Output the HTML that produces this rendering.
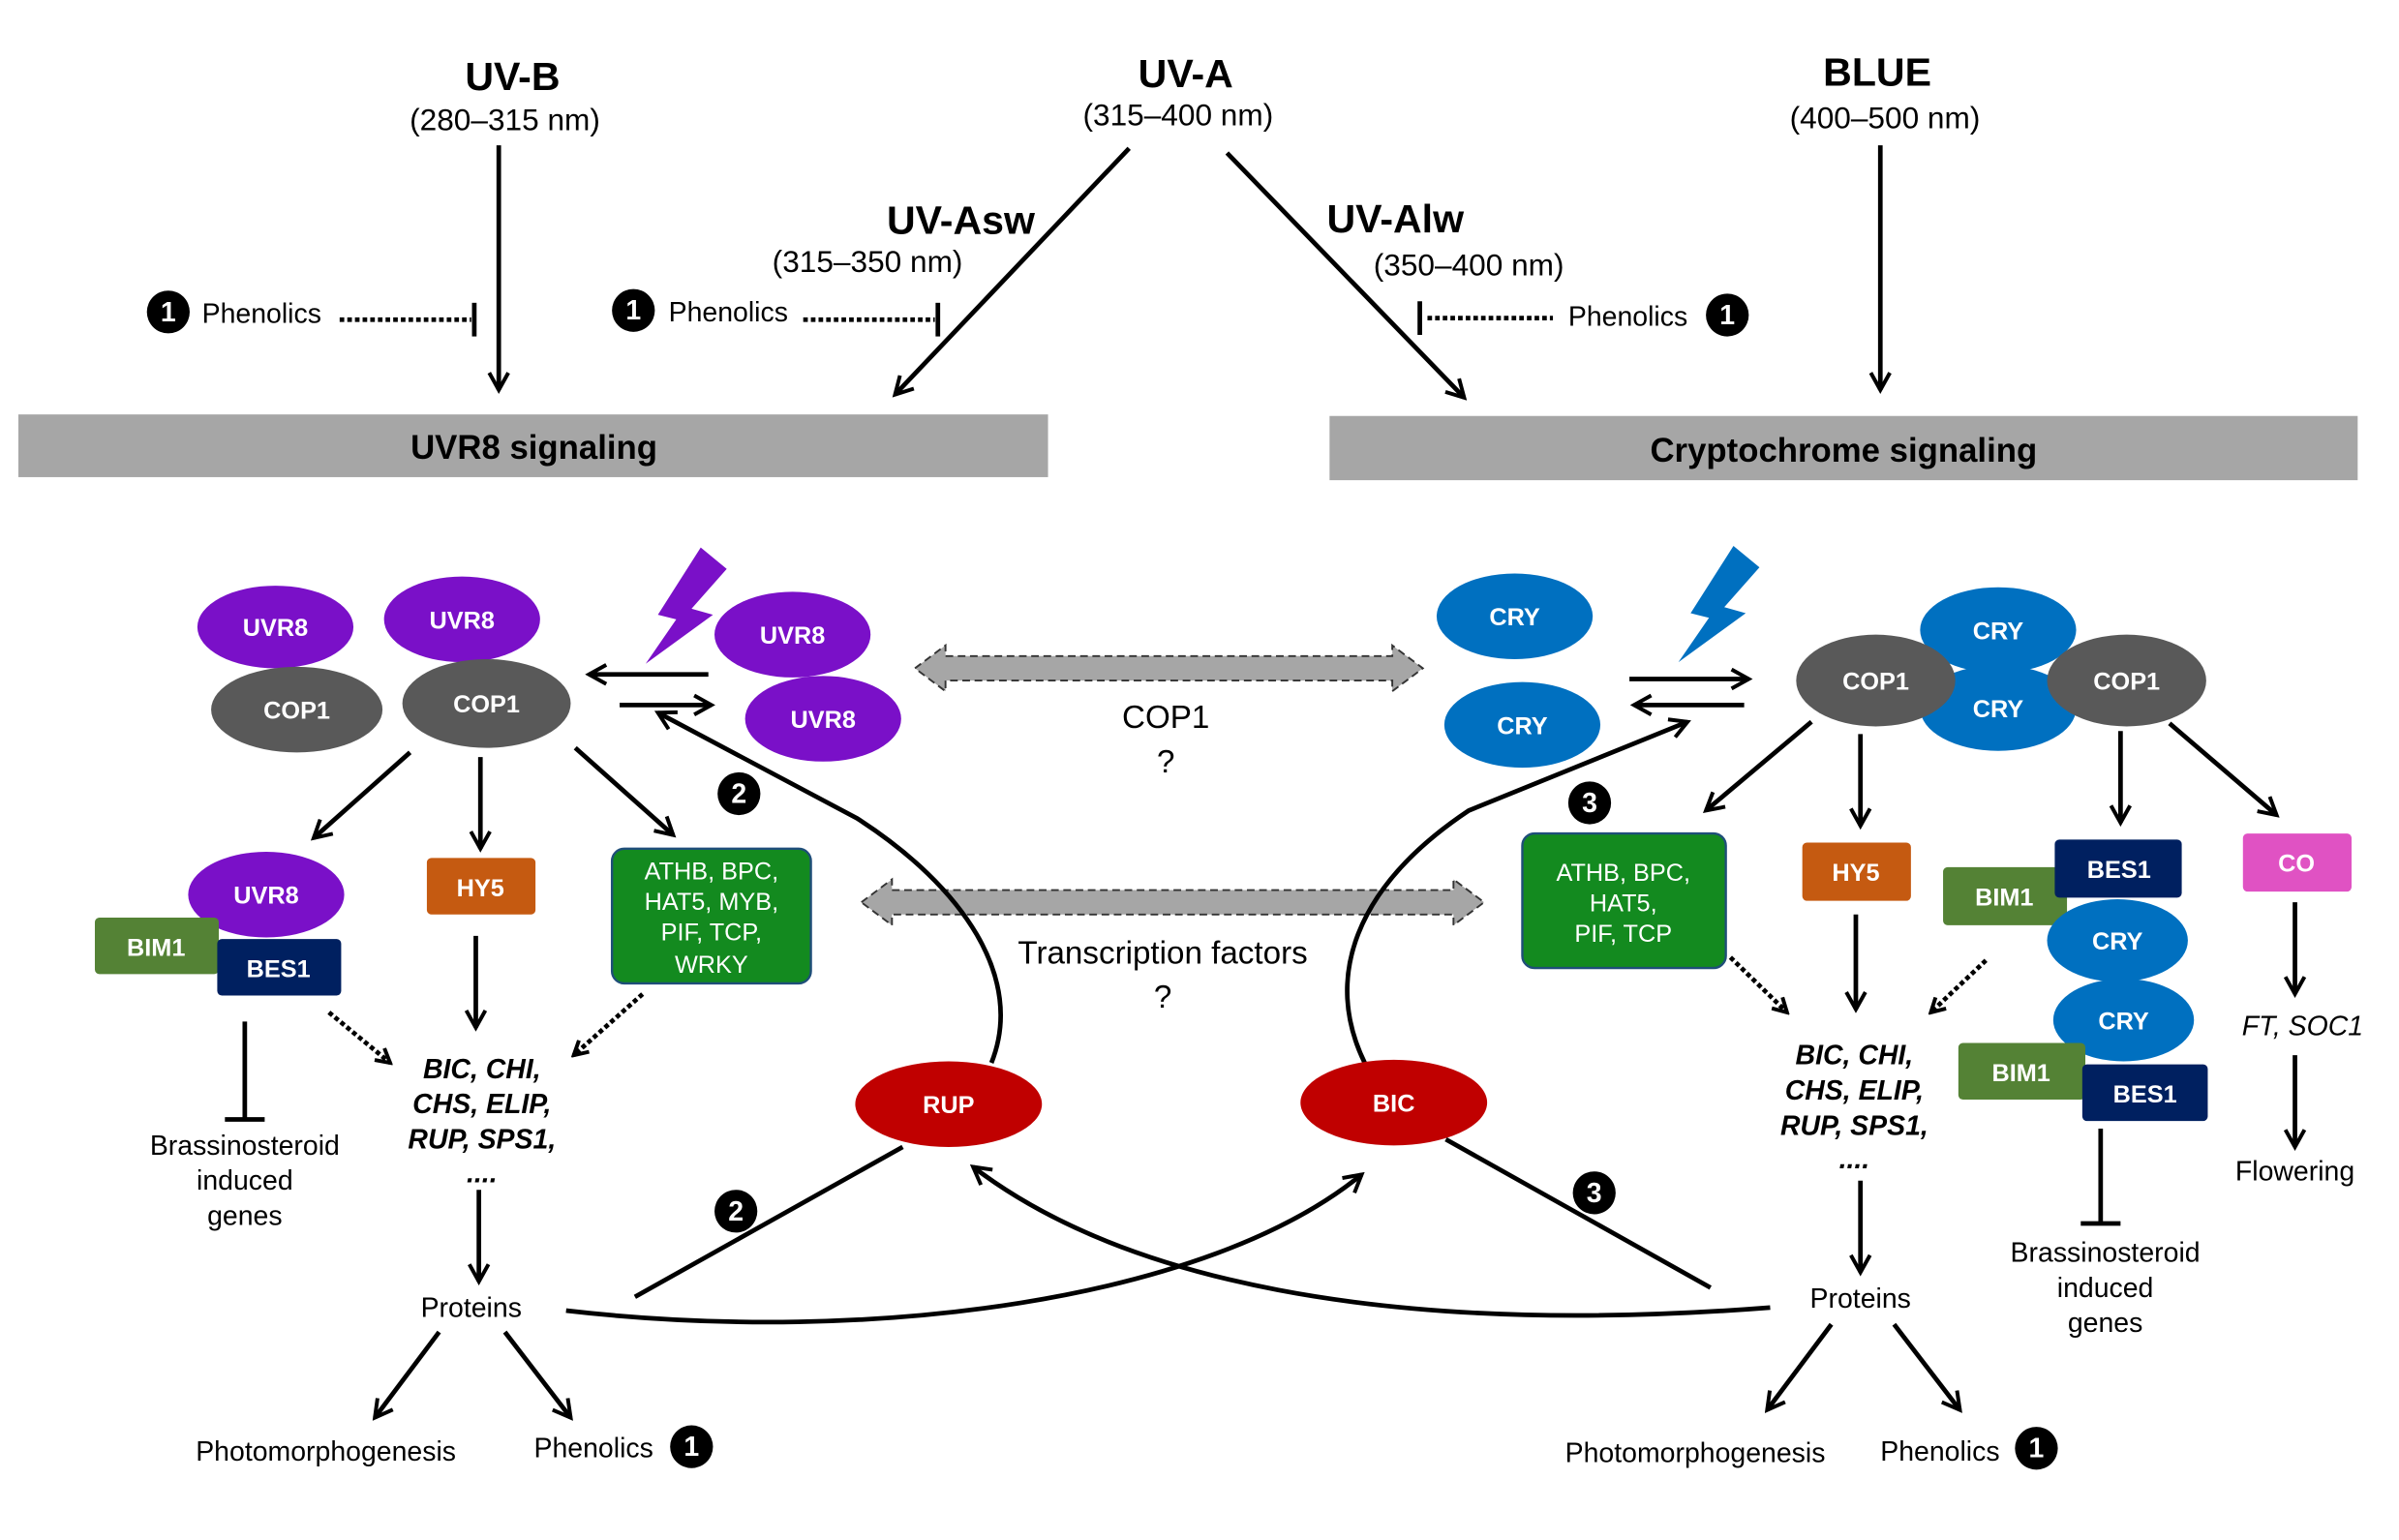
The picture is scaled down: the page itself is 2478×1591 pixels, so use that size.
<!DOCTYPE html>
<html><head><meta charset="utf-8"><style>
html,body{margin:0;padding:0;background:#fff;}
svg{display:block;}
text{font-family:"Liberation Sans",Arial,sans-serif;}
.t{font-size:18px;fill:#000;text-anchor:middle;}
.w{font-size:16px;font-weight:bold;fill:#fff;text-anchor:middle;}
.g{font-size:16px;fill:#fff;text-anchor:middle;}
.it{font-size:18px;font-weight:bold;font-style:italic;text-anchor:middle;}
.ln{stroke:#000;stroke-width:3;fill:none;}
.dt{stroke:#000;stroke-width:3;stroke-dasharray:3 2;fill:none;}
.nt{font-size:18px;font-weight:bold;fill:#fff;text-anchor:middle;}
</style></head><body>
<svg width="2478" height="1591" viewBox="0 0 1568 1007" preserveAspectRatio="none" xmlns="http://www.w3.org/2000/svg">
<defs>
<marker id="a" viewBox="0 0 12 12" refX="10" refY="6" markerWidth="5" markerHeight="5" orient="auto" markerUnits="strokeWidth"><path d="M1,1 L10,6 L1,11" fill="none" stroke="#000" stroke-width="2"/></marker>
<marker id="d" viewBox="0 0 12 12" refX="10" refY="6" markerWidth="4" markerHeight="4" orient="auto" markerUnits="strokeWidth"><path d="M1,1 L10,6 L1,11" fill="none" stroke="#000" stroke-width="2.5"/></marker>
</defs>

<text x="335" y="59" style="font-size:26px;font-weight:bold;text-anchor:middle">UV-B</text>
<text x="330" y="85" class="t" style="font-size:20px">(280–315 nm)</text>
<text x="775" y="57" style="font-size:26px;font-weight:bold;text-anchor:middle">UV-A</text>
<text x="770" y="82" class="t" style="font-size:20px">(315–400 nm)</text>
<text x="1227" y="56" style="font-size:26px;font-weight:bold;text-anchor:middle">BLUE</text>
<text x="1232" y="84" class="t" style="font-size:20px">(400–500 nm)</text>
<text x="628" y="153" style="font-size:26px;font-weight:bold;text-anchor:middle">UV-Asw</text>
<text x="567" y="178" class="t" style="font-size:20px">(315–350 nm)</text>
<text x="912" y="152" style="font-size:26px;font-weight:bold;text-anchor:middle">UV-Alw</text>
<text x="960" y="180" class="t" style="font-size:20px">(350–400 nm)</text>

<line x1="326" y1="95" x2="326" y2="255" class="ln" marker-end="url(#a)"/>
<line x1="738" y1="97" x2="585" y2="258" class="ln" marker-end="url(#a)"/>
<line x1="802" y1="100" x2="957" y2="260" class="ln" marker-end="url(#a)"/>
<line x1="1229" y1="95" x2="1229" y2="255" class="ln" marker-end="url(#a)"/>

<circle cx="110" cy="204" r="14"/><text x="110" y="210" class="nt">1</text>
<text x="132" y="211" style="font-size:18px">Phenolics</text>
<line x1="222" y1="209" x2="308" y2="209" class="dt"/><line x1="310" y1="198" x2="310" y2="220" class="ln"/>
<circle cx="414" cy="203" r="14"/><text x="414" y="209" class="nt">1</text>
<text x="437" y="210" style="font-size:18px">Phenolics</text>
<line x1="525" y1="209" x2="611" y2="209" class="dt"/><line x1="613" y1="198" x2="613" y2="220" class="ln"/>
<line x1="928" y1="197" x2="928" y2="219" class="ln"/><line x1="933" y1="208" x2="1015" y2="208" class="dt"/>
<text x="1025" y="213" style="font-size:18px">Phenolics</text>
<circle cx="1129" cy="206" r="14"/><text x="1129" y="212" class="nt">1</text>

<rect x="12" y="271" width="673" height="41" fill="#a6a6a6"/>
<text x="349" y="300" style="font-size:22px;font-weight:bold;text-anchor:middle">UVR8 signaling</text>
<rect x="869" y="272" width="672" height="42" fill="#a6a6a6"/>
<text x="1205" y="302" style="font-size:22px;font-weight:bold;text-anchor:middle">Cryptochrome signaling</text>

<ellipse cx="180" cy="410" rx="51" ry="27" fill="#7a10c8"/><text x="180" y="416" class="w">UVR8</text>
<ellipse cx="194" cy="464" rx="56" ry="28" fill="#595959"/><text x="194" y="470" class="w">COP1</text>
<ellipse cx="302" cy="405" rx="51" ry="28" fill="#7a10c8"/><text x="302" y="411" class="w">UVR8</text>
<ellipse cx="318" cy="460" rx="55" ry="29" fill="#595959"/><text x="318" y="466" class="w">COP1</text>
<ellipse cx="518" cy="415" rx="51" ry="28" fill="#7a10c8"/><text x="518" y="421" class="w">UVR8</text>
<ellipse cx="538" cy="470" rx="51" ry="28" fill="#7a10c8"/><text x="538" y="476" class="w">UVR8</text>
<polygon points="458,358 475,372 452,398 466,402 422,434 442,405 430,402" fill="#7a10c8"/>
<line x1="463" y1="441" x2="385" y2="441" class="ln" marker-end="url(#a)"/>
<line x1="405" y1="461" x2="465" y2="461" class="ln" marker-end="url(#a)"/>

<polygon points="598,437 618,422 618,429 910,429 910,422 930,437 910,452 910,445 618,445 618,452" fill="#a6a6a6" stroke="#333" stroke-width="1.2" stroke-dasharray="5 3"/>
<text x="762" y="476" class="t" style="font-size:21px">COP1</text>
<text x="762" y="505" class="t" style="font-size:21px">?</text>
<polygon points="563,590 583,575 583,582 950,582 950,575 970,590 950,605 950,598 583,598 583,605" fill="#a6a6a6" stroke="#333" stroke-width="1.2" stroke-dasharray="5 3"/>
<text x="760" y="630" class="t" style="font-size:21px">Transcription factors</text>
<text x="760" y="659" class="t" style="font-size:21px">?</text>

<ellipse cx="990" cy="403" rx="51" ry="28" fill="#0070c0"/><text x="990" y="409" class="w">CRY</text>
<ellipse cx="995" cy="474" rx="51" ry="28" fill="#0070c0"/><text x="995" y="480" class="w">CRY</text>
<polygon points="1133,357 1150,371 1127,397 1141,401 1097,433 1117,404 1105,401" fill="#0070c0"/>
<line x1="1065" y1="444" x2="1143" y2="444" class="ln" marker-end="url(#a)"/>
<line x1="1140" y1="461" x2="1068" y2="461" class="ln" marker-end="url(#a)"/>

<ellipse cx="1306" cy="412" rx="51" ry="28" fill="#0070c0"/><text x="1306" y="418" class="w">CRY</text>
<ellipse cx="1306" cy="463" rx="51" ry="28" fill="#0070c0"/><text x="1306" y="469" class="w">CRY</text>
<ellipse cx="1226" cy="445" rx="52" ry="30" fill="#595959"/><text x="1226" y="451" class="w">COP1</text>
<ellipse cx="1390" cy="445" rx="52" ry="30" fill="#595959"/><text x="1390" y="451" class="w">COP1</text>

<line x1="268" y1="492" x2="205" y2="548" class="ln" marker-end="url(#a)"/>
<line x1="314" y1="495" x2="314" y2="555" class="ln" marker-end="url(#a)"/>
<line x1="376" y1="489" x2="440" y2="546" class="ln" marker-end="url(#a)"/>

<ellipse cx="174" cy="585" rx="51" ry="28" fill="#7a10c8"/><text x="174" y="591" class="w">UVR8</text>
<rect x="62" y="600" width="81" height="37" rx="3" fill="#548235"/><text x="102" y="625" class="w">BIM1</text>
<rect x="142" y="614" width="81" height="37" rx="3" fill="#002060"/><text x="182" y="639" class="w">BES1</text>
<rect x="279" y="561" width="71" height="37" rx="3" fill="#c55a11"/><text x="314" y="586" class="w">HY5</text>
<rect x="400" y="555" width="130" height="88" rx="8" fill="#138a1f" stroke="#1f4e79" stroke-width="1.5"/>
<text x="465" y="575" class="g">ATHB, BPC,</text><text x="465" y="595" class="g">HAT5, MYB,</text>
<text x="465" y="615" class="g">PIF, TCP,</text><text x="465" y="636" class="g">WRKY</text>

<line x1="160" y1="668" x2="160" y2="732" class="ln"/><line x1="147" y1="732" x2="173" y2="732" class="ln"/>
<text x="160" y="755" class="t">Brassinosteroid</text><text x="160" y="778" class="t">induced</text><text x="160" y="801" class="t">genes</text>
<line x1="215" y1="662" x2="255" y2="695" class="dt" marker-end="url(#d)"/>
<line x1="420" y1="650" x2="375" y2="690" class="dt" marker-end="url(#d)"/>
<line x1="311" y1="612" x2="311" y2="672" class="ln" marker-end="url(#a)"/>
<text x="315" y="705" class="it">BIC, CHI,</text><text x="315" y="728" class="it">CHS, ELIP,</text>
<text x="315" y="751" class="it">RUP, SPS1,</text><text x="315" y="773" class="it">....</text>
<line x1="313" y1="778" x2="313" y2="838" class="ln" marker-end="url(#a)"/>
<text x="308" y="861" class="t">Proteins</text>
<line x1="287" y1="871" x2="245" y2="927" class="ln" marker-end="url(#a)"/>
<line x1="330" y1="871" x2="373" y2="927" class="ln" marker-end="url(#a)"/>
<text x="213" y="955" class="t">Photomorphogenesis</text>
<text x="388" y="953" class="t">Phenolics</text>
<circle cx="452" cy="946" r="14"/><text x="452" y="952" class="nt">1</text>

<path d="M648,695 C670,640 630,580 560,535 L430,466" class="ln" marker-end="url(#a)"/>
<path d="M892,695 C865,640 885,580 960,530 L1103,472" class="ln" marker-end="url(#a)"/>
<ellipse cx="620" cy="722" rx="61" ry="28" fill="#c00000"/><text x="620" y="728" class="w">RUP</text>
<ellipse cx="911" cy="721" rx="61" ry="28" fill="#c00000"/><text x="911" y="727" class="w">BIC</text>
<line x1="415" y1="848" x2="590" y2="750" class="ln"/>
<path d="M370,857 C570,880 790,850 890,768" class="ln" marker-end="url(#a)"/>
<path d="M1157,855 C900,875 730,835 636,763" class="ln" marker-end="url(#a)"/>
<line x1="945" y1="745" x2="1118" y2="842" class="ln"/>
<circle cx="483" cy="519" r="14"/><text x="483" y="525" class="nt">2</text>
<circle cx="1039" cy="525" r="14"/><text x="1039" y="531" class="nt">3</text>
<circle cx="481" cy="792" r="14"/><text x="481" y="798" class="nt">2</text>
<circle cx="1042" cy="780" r="14"/><text x="1042" y="786" class="nt">3</text>

<line x1="1184" y1="472" x2="1115" y2="530" class="ln" marker-end="url(#a)"/>
<line x1="1216" y1="480" x2="1216" y2="540" class="ln" marker-end="url(#a)"/>
<line x1="1386" y1="478" x2="1386" y2="538" class="ln" marker-end="url(#a)"/>
<line x1="1418" y1="473" x2="1488" y2="533" class="ln" marker-end="url(#a)"/>

<rect x="995" y="545" width="133" height="88" rx="8" fill="#138a1f" stroke="#1f4e79" stroke-width="1.5"/>
<text x="1061" y="576" class="g">ATHB, BPC,</text><text x="1061" y="596" class="g">HAT5,</text><text x="1061" y="616" class="g">PIF, TCP</text>
<rect x="1178" y="551" width="71" height="38" rx="3" fill="#c55a11"/><text x="1213" y="576" class="w">HY5</text>
<rect x="1270" y="567" width="81" height="38" rx="3" fill="#548235"/><text x="1310" y="592" class="w">BIM1</text>
<rect x="1343" y="549" width="83" height="38" rx="3" fill="#002060"/><text x="1385" y="574" class="w">BES1</text>
<ellipse cx="1384" cy="615" rx="46" ry="27" fill="#0070c0"/><text x="1384" y="621" class="w">CRY</text>
<ellipse cx="1388" cy="667" rx="46" ry="27" fill="#0070c0"/><text x="1388" y="673" class="w">CRY</text>
<rect x="1280" y="682" width="83" height="37" rx="3" fill="#548235"/><text x="1321" y="707" class="w">BIM1</text>
<rect x="1361" y="696" width="82" height="37" rx="3" fill="#002060"/><text x="1402" y="721" class="w">BES1</text>
<rect x="1466" y="545" width="71" height="38" rx="3" fill="#e052c3"/><text x="1501" y="570" class="w">CO</text>

<line x1="1131" y1="626" x2="1168" y2="662" class="dt" marker-end="url(#d)"/>
<line x1="1298" y1="628" x2="1262" y2="662" class="dt" marker-end="url(#d)"/>
<line x1="1213" y1="598" x2="1213" y2="660" class="ln" marker-end="url(#a)"/>
<text x="1212" y="696" class="it">BIC, CHI,</text><text x="1212" y="719" class="it">CHS, ELIP,</text>
<text x="1212" y="742" class="it">RUP, SPS1,</text><text x="1212" y="764" class="it">....</text>
<line x1="1216" y1="772" x2="1216" y2="832" class="ln" marker-end="url(#a)"/>
<text x="1216" y="855" class="t">Proteins</text>
<line x1="1197" y1="866" x2="1155" y2="922" class="ln" marker-end="url(#a)"/>
<line x1="1238" y1="866" x2="1281" y2="922" class="ln" marker-end="url(#a)"/>
<text x="1108" y="956" class="t">Photomorphogenesis</text>
<text x="1268" y="955" class="t">Phenolics</text>
<circle cx="1331" cy="947" r="14"/><text x="1331" y="953" class="nt">1</text>

<line x1="1373" y1="738" x2="1373" y2="800" class="ln"/><line x1="1360" y1="800" x2="1386" y2="800" class="ln"/>
<text x="1376" y="825" class="t">Brassinosteroid</text><text x="1376" y="848" class="t">induced</text><text x="1376" y="871" class="t">genes</text>

<line x1="1500" y1="590" x2="1500" y2="650" class="ln" marker-end="url(#a)"/>
<text x="1505" y="677" class="t" style="font-style:italic">FT, SOC1</text>
<line x1="1500" y1="690" x2="1500" y2="750" class="ln" marker-end="url(#a)"/>
<text x="1500" y="772" class="t">Flowering</text>
</svg>
</body></html>
